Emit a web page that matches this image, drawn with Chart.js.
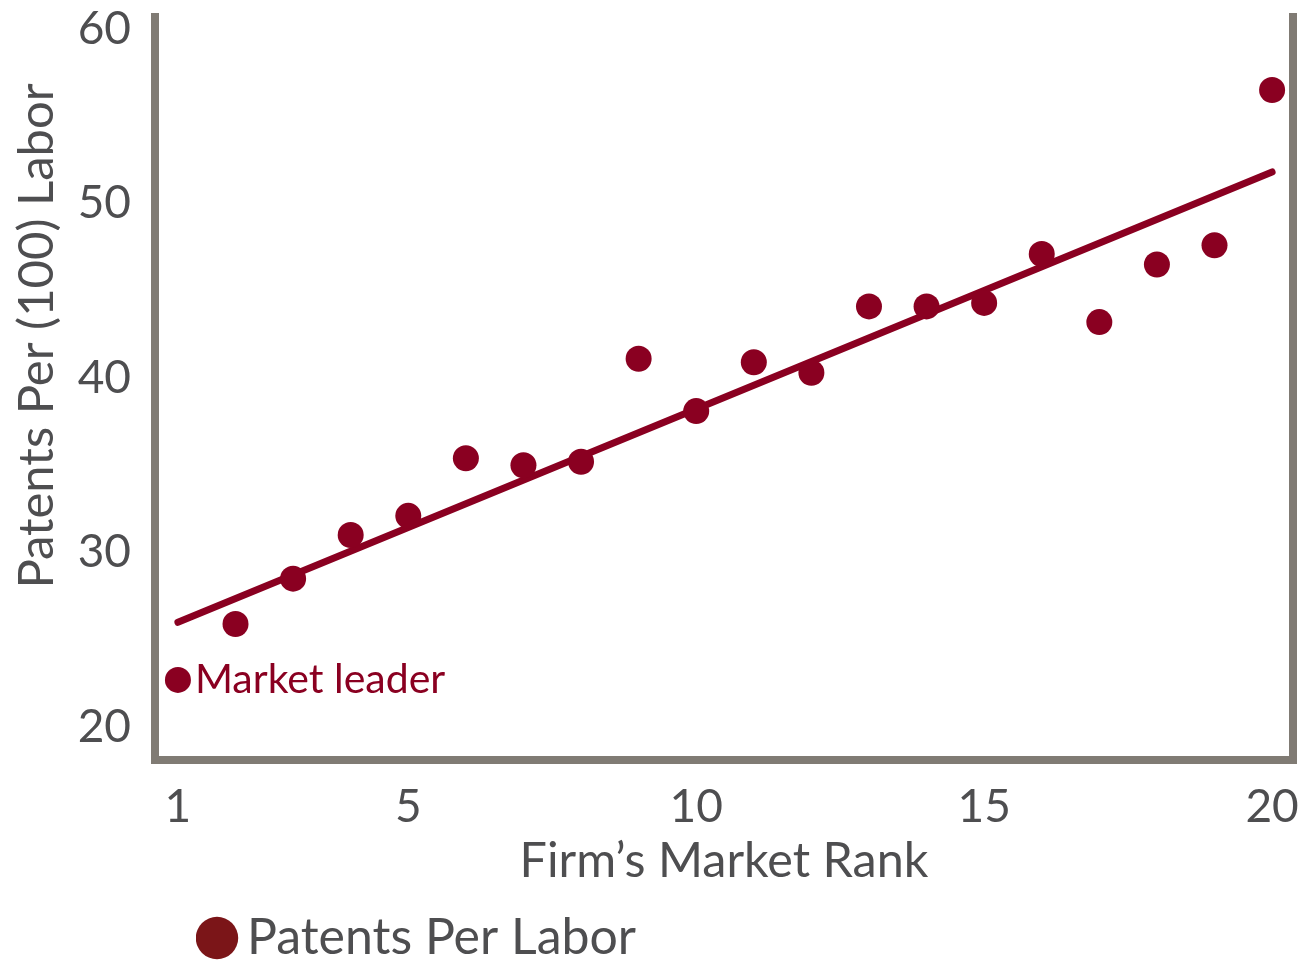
<!DOCTYPE html>
<html>
<head>
<meta charset="utf-8">
<script src="https://cdn.jsdelivr.net/npm/chart.js@4.4.0/dist/chart.umd.min.js"></script>
<style>
  html, body { margin: 0; padding: 0; background: #ffffff; }
  #wrap { width: 1306px; height: 963px; }
</style>
</head>
<body>
<div id="wrap"><canvas id="c" width="1306" height="963"></canvas></div>
<script>
// ---- Data ----
const ranks = [1, 2, 3, 4, 5, 6, 7, 8, 9, 10, 11, 12, 13, 14, 15, 16, 17, 18, 19, 20];
const patentsPerLabor = [22.7, 25.9, 28.5, 31.0, 32.1, 35.4, 35.0, 35.2, 41.1, 38.1, 40.9, 40.3, 44.1, 44.1, 44.3, 47.1, 43.2, 46.5, 47.6, 56.5];
const trendRanks = [1, 20];
const trendValues = [26.0, 51.8];
const xTickValues = [1, 5, 10, 15, 20];
const yTickValues = [20, 30, 40, 50, 60];
const seriesLabel = 'Patents Per Labor';
const xTitle = 'Firm\u2019s Market Rank';
const yTitle = 'Patents Per (100) Labor';
const leaderLabel = 'Market leader';

const RED = '#8a0021';
const LEGEND_RED = '#7b1518';
const AXIS = '#807b74';
const TEXT = '#4e4e50';
const FONT = 'Lato, "Open Sans", sans-serif';

const framePlugin = {
  id: 'frame',
  beforeDatasetsDraw(chart) {
    const {ctx, chartArea: a} = chart;
    ctx.save();
    ctx.strokeStyle = AXIS;
    ctx.lineWidth = 8;
    ctx.lineJoin = 'miter';
    ctx.beginPath();
    ctx.moveTo(a.left, a.top);
    ctx.lineTo(a.left, a.bottom);
    ctx.lineTo(a.right, a.bottom);
    ctx.lineTo(a.right, a.top);
    ctx.stroke();
    ctx.restore();
  },
  afterDatasetsDraw(chart) {
    const {ctx, scales} = chart;
    const px = scales.x.getPixelForValue(ranks[0]);
    const py = scales.y.getPixelForValue(patentsPerLabor[0]);
    ctx.save();
    ctx.fillStyle = RED;
    ctx.font = '41px ' + FONT;
    ctx.textBaseline = 'middle';
    ctx.textAlign = 'left';
    ctx.fillText(leaderLabel, px + 17, py);
    ctx.restore();
  },
  afterDraw(chart) {
    const {ctx} = chart;
    ctx.save();
    ctx.translate(37, 336);
    ctx.rotate(-Math.PI / 2);
    ctx.fillStyle = TEXT;
    ctx.font = '49px ' + FONT;
    ctx.textAlign = 'center';
    ctx.textBaseline = 'middle';
    ctx.fillText(yTitle, 0, 0);
    ctx.restore();
  },
  beforeDraw(chart) {
    const lg = chart.legend;
    if (lg) {
      const w = lg.right - lg.left;
      lg.left = 196; lg.right = 196 + w;
      const h = lg.bottom - lg.top;
      lg.top = 897; lg.bottom = 897 + h;
    }
  }
};

new Chart(document.getElementById('c'), {
  data: {
    datasets: [
      {
        type: 'scatter',
        label: seriesLabel,
        data: ranks.map((r, i) => ({x: r, y: patentsPerLabor[i]})),
        backgroundColor: RED,
        borderColor: RED,
        pointRadius: 13,
        pointHoverRadius: 13,
        borderWidth: 0,
        order: 1
      },
      {
        type: 'line',
        label: 'Trend',
        data: trendRanks.map((r, i) => ({x: r, y: trendValues[i]})),
        borderColor: RED,
        borderWidth: 7,
        borderCapStyle: 'round',
        pointRadius: 0,
        fill: false,
        order: 2
      }
    ]
  },
  options: {
    responsive: false,
    animation: false,
    devicePixelRatio: 1,
    layout: { padding: { top: 11, right: 5, left: 0, bottom: 0 } },
    scales: {
      x: {
        type: 'linear',
        min: 0.602,
        max: 20.363,
        afterBuildTicks(scale) { scale.ticks = xTickValues.map(v => ({value: v})); },
        afterFit(scale) { scale.height = 127; scale.paddingLeft = 0; scale.paddingRight = 0; },
        grid: { display: false, drawTicks: false },
        border: { display: false },
        ticks: {
          color: TEXT,
          font: { family: FONT, size: 46 },
          padding: 20,
          maxRotation: 0,
          autoSkip: false,
          callback: v => String(v)
        },
        title: {
          display: true,
          text: xTitle,
          color: TEXT,
          font: { family: FONT, size: 48.5 },
          padding: { top: 0, bottom: -3 }
        }
      },
      y: {
        type: 'linear',
        min: 18.11,
        max: 60.91,
        afterBuildTicks(scale) { scale.ticks = yTickValues.map(v => ({value: v})); },
        afterFit(scale) { scale.width = 155; scale.paddingTop = 0; scale.paddingBottom = 0; },
        grid: { display: false, drawTicks: false },
        border: { display: false },
        ticks: {
          color: TEXT,
          font: { family: FONT, size: 46 },
          padding: 24,
          autoSkip: false,
          callback: v => String(v)
        }
      }
    },
    plugins: {
      legend: {
        display: true,
        position: 'bottom',
        align: 'start',
        labels: {
          usePointStyle: true,
          pointStyle: 'circle',
          boxWidth: 10,
          boxHeight: 30,
          padding: 16,
          color: TEXT,
          font: { family: FONT, size: 50 },
          generateLabels(chart) {
            return [{
              text: seriesLabel,
              fillStyle: LEGEND_RED,
              strokeStyle: LEGEND_RED,
              lineWidth: 0,
              pointStyle: 'circle',
              datasetIndex: 0,
              hidden: false,
              fontColor: TEXT
            }];
          }
        }
      },
      tooltip: { enabled: false }
    }
  },
  plugins: [framePlugin]
});
</script>
</body>
</html>
